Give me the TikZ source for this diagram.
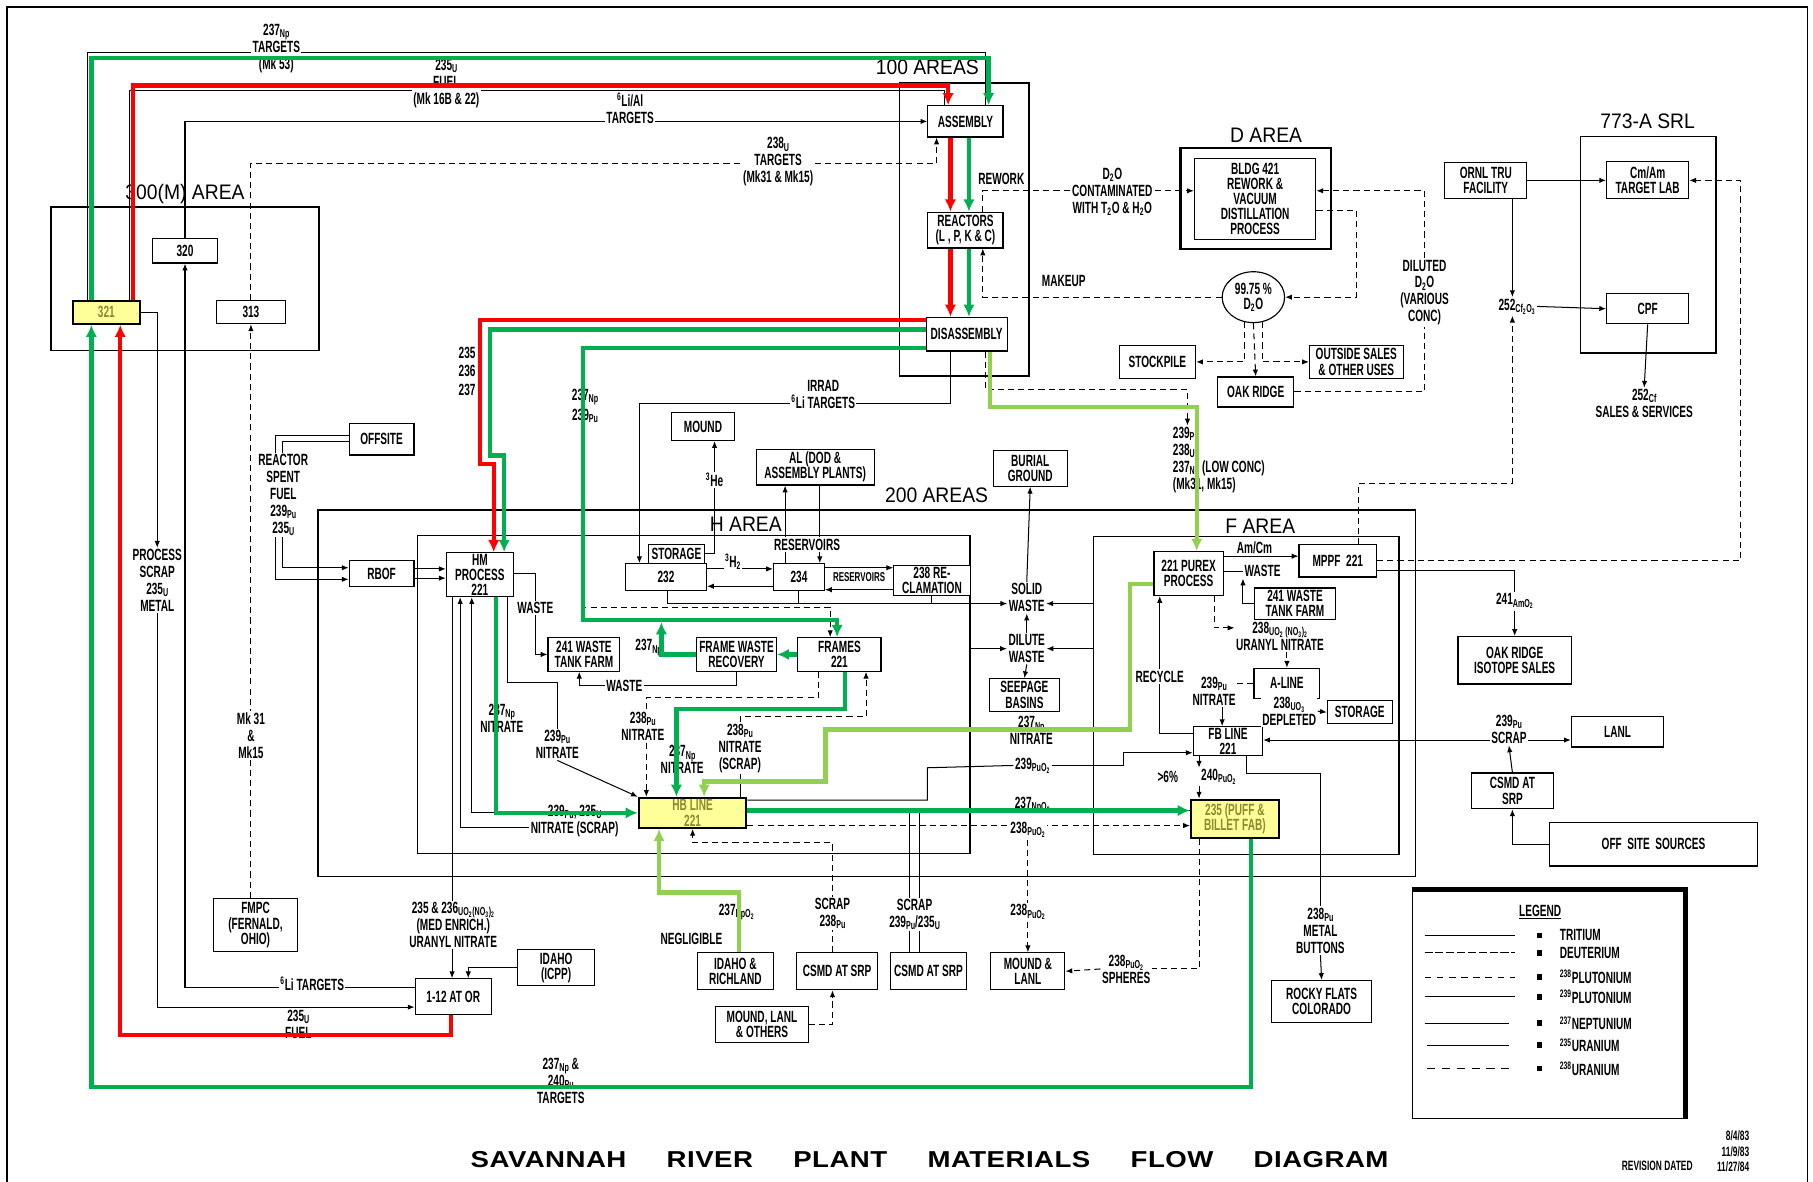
\documentclass[tikz,border=0pt]{standalone}
\usepackage{fontspec}
\setmainfont{Liberation Sans}[FakeStretch=0.62]
\newfontfamily\areafont{Liberation Sans}[FakeStretch=0.92]
\newfontfamily\titlefont{Liberation Sans}[FakeStretch=1.2,LetterSpace=2]
\usetikzlibrary{arrows.meta,shapes.geometric}
\definecolor{flowRed}{HTML}{FF0000}
\definecolor{flowGreen}{HTML}{00B050}
\definecolor{flowLime}{HTML}{92D050}
\definecolor{hiYellow}{HTML}{FFFF99}
\definecolor{hiText}{HTML}{8A8A30}
\newcommand\boxfont{\bfseries\fontsize{12}{11.2}\selectfont}
\newcommand\lblfont{\bfseries\fontsize{12}{12.5}\selectfont}
\newcommand\iso[2]{#1{\fontsize{8.5}{8.5}\selectfont\raisebox{-0.35ex}{#2}}}
\pgfdeclarelayer{back}
\pgfdeclarelayer{front}
\pgfsetlayers{back,main,front}

\begin{document}
\begin{tikzpicture}[
    x=0.03cm, y=-0.03cm,
    wh/.style 2 args={minimum width=#1*0.03cm, minimum height=#2*0.03cm},
    box/.style={draw, line width=0.85pt, fill=white, align=center, inner sep=0.5pt, font=\boxfont},
    ybox/.style={box, fill=hiYellow, line width=1.5pt, text=hiText},
    areabox/.style={draw, line width=1.1pt, inner sep=0pt},
    arealbl/.style={font=\areafont\fontsize{15.5}{16}\selectfont, inner sep=0pt},
    lbl/.style={align=center, inner sep=1pt, fill=white, font=\lblfont},
    conn/.style={line width=0.75pt},
    arrow/.style={conn, -{Latex[length=5pt,width=4pt]}},
    dashconn/.style={conn, dash pattern=on 4.5pt off 3pt},
    dasharrow/.style={dashconn, -{Latex[length=5pt,width=4pt]}},
    redflow/.style={draw=flowRed, line width=3.2pt, -{Latex[length=9pt,width=8.5pt]}},
    greenflow/.style={redflow, draw=flowGreen},
    limeflow/.style={redflow, draw=flowLime}
  ]
  \useasboundingbox (0,0) rectangle (1568,1022);
  \draw[line width=1pt] (6,1030) -- (6,6) -- (1563,6) -- (1563,1030);

  %---------------- 300(M) area ----------------%
  \node[areabox, wh={232}{124}] (a300) at (160,241) {};
  \node[arealbl] (l300) at (160,168) {300(M) AREA};
  \node[ybox, wh={58}{20}] (b321) at (92,270) {321};
  \node[box, wh={56}{21}] (b320) at (160,217) {320};
  \node[box, wh={60}{20}] (b313) at (217,270) {313};

  %---------------- 100 areas ----------------%
  \node[areabox, line width=1.3pt, wh={112}{253}] (a100) at (834,198.5) {};
  \node[arealbl] (l100) at (802,58) {100 AREAS};
  \node[box, wh={65}{27}] (assembly) at (835,105) {ASSEMBLY};
  \node[box, wh={65}{31}] (reactors) at (835,199) {REACTORS\\(L , P, K \& C)};
  \node[box, wh={70}{29}] (disassembly) at (836,289) {DISASSEMBLY};
  \node[lbl] (lrework) at (866,155) {REWORK};

  %---------------- D area ----------------%
  \node[areabox, line width=1.6pt, wh={130}{87}] (aD) at (1086,171.5) {};
  \node[arealbl] (lD) at (1095,117) {D AREA};
  \node[box, wh={105}{70}] (bldg) at (1085.5,172) {BLDG 421\\REWORK \&\\VACUUM\\DISTILLATION\\PROCESS};
  \node[box, ellipse, wh={54}{44}] (dtwo) at (1084,257) {99.75\,\%\\D\textsubscript{2}O};
  \node[box, wh={66}{29}] (stockpile) at (1001,313) {STOCKPILE};
  \node[box, wh={81}{29}] (outside) at (1173,313) {OUTSIDE SALES\\\& OTHER USES};
  \node[box, wh={66}{26}] (oakridge) at (1086,339) {OAK RIDGE};
  \node[lbl] (ld2o) at (962,166) {D\textsubscript{2}O\\CONTAMINATED\\WITH T\textsubscript{2}O \& H\textsubscript{2}O};
  \node[lbl] (lmakeup) at (920,243) {MAKEUP};
  \node[lbl] (ldiluted) at (1232,253) {DILUTED\\D\textsubscript{2}O\\(VARIOUS\\CONC)};

  %---------------- 773-A SRL ----------------%
  \node[areabox, line width=1.3pt, wh={117}{187}] (aSRL) at (1425.5,211.5) {};
  \node[arealbl] (lSRL) at (1425,105) {773-A SRL};
  \node[box, wh={71}{31}] (ornl) at (1285,156) {ORNL TRU\\FACILITY};
  \node[box, wh={71}{32}] (cmam) at (1425,156) {Cm/Am\\TARGET LAB};
  \node[box, wh={71}{26}] (cpf) at (1425,267) {CPF};
  \node[lbl] (lcf) at (1312,265) {\iso{252}{Cf\textsubscript{2}O\textsubscript{3}}};
  \node[lbl] (lcfsales) at (1422,349) {\iso{252}{Cf}\\SALES \& SERVICES};

  %---------------- 200 areas ----------------%
  \node[areabox, wh={949}{317}] (a200) at (749.5,599.5) {};
  \node[arealbl] (l200) at (810,428) {200 AREAS};
  \node[areabox, line width=0.9pt, wh={478}{275}] (aH) at (600,600.5) {};
  \node[arealbl] (lH) at (645,453) {H AREA};
  \node[areabox, line width=0.9pt, wh={264}{275}] (aF) at (1078,601.5) {};
  \node[arealbl] (lF) at (1090,455) {F AREA};

  %---------------- H area boxes ----------------%
  \node[box, wh={56}{27}] (offsite) at (330,380) {OFFSITE};
  \node[box, wh={56}{23}] (rbof) at (330,496) {RBOF};
  \node[box, wh={58}{38}] (hm) at (415,497) {HM\\PROCESS\\221};
  \node[box, wh={55}{24}] (mound) at (608,369) {MOUND};
  \node[box, wh={48}{16}] (storH) at (585,479) {STORAGE};
  \node[box, wh={70}{23}] (b232) at (576,499) {232};
  \node[box, wh={44}{23}] (b234) at (691,499) {234};
  \node[box, wh={66}{26}] (b238) at (806,502) {238 RE-\\CLAMATION};
  \node[box, wh={102}{31}] (alplant) at (705,404) {AL (DOD \&\\ASSEMBLY PLANTS)};
  \node[box, wh={64}{31}] (burial) at (891,405) {BURIAL\\GROUND};
  \node[box, wh={60}{28}] (seepage) at (886,601) {SEEPAGE\\BASINS};
  \node[box, wh={62}{29}] (tankH) at (505,566) {241 WASTE\\TANK FARM};
  \node[box, wh={69}{29}] (fwr) at (637,566) {FRAME WASTE\\RECOVERY};
  \node[box, wh={72}{29}] (frames) at (726,566) {FRAMES\\221};
  \node[ybox, wh={93}{26}] (hbline) at (599,703) {HB LINE\\221};

  %---------------- F area boxes ----------------%
  \node[box, wh={60}{38}] (purex) at (1028,496) {221 PUREX\\PROCESS};
  \node[box, wh={67}{28}] (mppf) at (1157,485) {MPPF\ \ 221};
  \node[box, wh={70}{27}] (tankF) at (1120,522) {241 WASTE\\TANK FARM};
  \node[box, wh={57}{26}] (aline) at (1113,591) {A-LINE};
  \node[box, wh={56}{20}] (storF) at (1176,616) {STORAGE};
  \node[box, wh={60}{25}] (fbline) at (1062,641) {FB LINE\\221};
  \node[ybox, wh={76}{33}] (puff) at (1068,708) {235 (PUFF \&\\BILLET FAB)};

  %---------------- outside sites ----------------%
  \node[box, wh={98}{41}] (orsales) at (1310,571) {OAK RIDGE\\ISOTOPE SALES};
  \node[box, wh={80}{26}] (lanl) at (1399,633) {LANL};
  \node[box, wh={71}{31}] (csmdR) at (1308,684) {CSMD AT\\SRP};
  \node[box, wh={180}{38}] (offsrc) at (1430,730) {OFF\ \ SITE\ \ SOURCES};
  \node[box, wh={72}{46}] (fmpc) at (221,800) {FMPC\\(FERNALD,\\OHIO)};
  \node[box, wh={67}{31}] (icpp) at (481,837) {IDAHO\\(ICPP)};
  \node[box, wh={66}{31}] (oneTwelve) at (392,862) {1-12 AT OR};
  \node[box, wh={66}{32}] (idaho) at (636,840) {IDAHO \&\\RICHLAND};
  \node[box, wh={70}{32}] (csmdA) at (724,840) {CSMD AT SRP};
  \node[box, wh={66}{32}] (csmdB) at (803,840) {CSMD AT SRP};
  \node[box, wh={64}{32}] (moundlanl) at (889,840) {MOUND \&\\LANL};
  \node[box, wh={80}{31}] (mlo) at (659,886) {MOUND, LANL\\\& OTHERS};
  \node[box, wh={87}{36}] (rocky) at (1143,866) {ROCKY FLATS\\COLORADO};

  %---------------- flow labels ----------------%
  \node[lbl] (lnptop) at (239,42) {\iso{237}{Np}\\TARGETS\\(Mk 53)};
  \node[lbl] (lfueltop) at (386,72) {\iso{235}{U}\\FUEL\\(Mk 16B \& 22)};
  \node[lbl] (llial) at (545,94) {\textsuperscript{6}Li/Al\\TARGETS};
  \node[lbl] (l238u) at (673,140) {\iso{238}{U}\\TARGETS\\(Mk31 \& Mk15)};
  \node[lbl, align=left, anchor=north west] (llowconc) at (1013,368)
       {\iso{239}{Pu}\\\iso{238}{U}\\\iso{237}{Np} (LOW CONC)\\(Mk31, Mk15)};
  \node[lbl, fill=none] (l235) at (404,305) {235};
  \node[lbl, fill=none] (l236) at (404,321) {236};
  \node[lbl, fill=none] (l237) at (404,337) {237};
  \node[lbl, fill=none] (lnpg) at (506,343) {\iso{237}{Np}};
  \node[lbl, fill=none] (lpug) at (506,360) {\iso{239}{Pu}};
  \node[lbl] (lirrad) at (712,341) {IRRAD\\\textsuperscript{6}Li TARGETS};
  \node[lbl] (l3he) at (618,415) {\textsuperscript{3}He};
  \node[lbl] (l3h2) at (634,486) {\textsuperscript{3}H\textsubscript{2}};
  \node[lbl] (lres1) at (698,471) {RESERVOIRS};
  \node[lbl, font=\bfseries\fontsize{9.5}{9.5}\selectfont] (lres2) at (743,499) {RESERVOIRS};
  \node[lbl] (lsolid) at (888,517) {SOLID\\WASTE};
  \node[lbl] (ldilute) at (888,561) {DILUTE\\WASTE};
  \node[lbl] (lspent) at (245,428) {REACTOR\\SPENT\\FUEL\\\iso{239}{Pu}\\\iso{235}{U}};
  \node[lbl] (lprocscrap) at (136,502) {PROCESS\\SCRAP\\\iso{235}{U}\\METAL};
  \node[lbl] (lmk) at (217,636) {Mk 31\\\&\\Mk15};
  \node[lbl] (lwasteH) at (463,526) {WASTE};
  \node[lbl] (lnpnit) at (434,621) {\iso{237}{Np}\\NITRATE};
  \node[lbl] (lpunit) at (482,644) {\iso{239}{Pu}\\NITRATE};
  \node[lbl] (lhbscrap) at (497,710) {\iso{239}{Pu}, \iso{235}{U}\\NITRATE (SCRAP)};
  \node[lbl] (lwasteFW) at (540,593) {WASTE};
  \node[lbl, fill=none] (l237g) at (561,560) {\iso{237}{Np}};
  \node[lbl] (l238nit) at (556,628) {\iso{238}{Pu}\\NITRATE};
  \node[lbl] (l237nit) at (590,657) {\iso{237}{Np}\\NITRATE};
  \node[lbl] (lpscrap) at (640,647) {\iso{238}{Pu}\\NITRATE\\(SCRAP)};
  \node[lbl] (lnpnitF) at (892,632) {\iso{237}{Np}\\NITRATE};
  \node[lbl] (lpu239o2) at (893,662) {\iso{239}{PuO\textsubscript{2}}};
  \node[lbl] (lnpo2) at (893,696) {\iso{237}{NpO\textsubscript{2}}};
  \node[lbl] (lpuo2) at (889,718) {\iso{238}{PuO\textsubscript{2}}};
  \node[lbl] (lpuo2b) at (889,789) {\iso{238}{PuO\textsubscript{2}}};
  \node[lbl] (lspheres) at (974,838) {\iso{238}{PuO\textsubscript{2}}\\SPHERES};
  \node[lbl] (lscrapA) at (720,790) {SCRAP\\\iso{238}{Pu}};
  \node[lbl] (lscrapB) at (791,791) {SCRAP\\\iso{239}{Pu}/\iso{235}{U}};
  \node[lbl, fill=none] (lnpo2g) at (637,789) {\iso{237}{NpO\textsubscript{2}}};
  \node[lbl] (lneg) at (598,812) {NEGLIGIBLE};
  \node[lbl] (luranyl) at (392,800) {235\,\&\,\iso{236}{UO\textsubscript{2}(NO\textsubscript{3})\textsubscript{2}}\\(MED ENRICH.)\\URANYL NITRATE};
  \node[lbl] (lli) at (270,851) {\textsuperscript{6}Li TARGETS};
  \node[lbl] (lfuel) at (258,886) {\iso{235}{U}\\FUEL};
  \node[lbl] (ltargets) at (485,935) {\iso{237}{Np} \&\\\iso{240}{Pu}\\TARGETS};
  \node[lbl] (lamcm) at (1085,474) {Am/Cm};
  \node[lbl] (lwasteF) at (1092,494) {WASTE};
  \node[lbl] (luranF) at (1107,550) {\iso{238}{UO\textsubscript{2} (NO\textsubscript{3})\textsubscript{2}}\\URANYL NITRATE};
  \node[lbl] (lpunitF) at (1050,598) {\iso{239}{Pu}\\NITRATE};
  \node[lbl] (luo3) at (1115,615) {\iso{238}{UO\textsubscript{3}}\\DEPLETED};
  \node[lbl] (lrecycle) at (1003,585) {RECYCLE};
  \node[lbl] (lpct) at (1010,672) {>6\%};
  \node[lbl] (lpu240) at (1054,672) {\iso{240}{PuO\textsubscript{2}}};
  \node[lbl] (lbuttons) at (1142,805) {\iso{238}{Pu}\\METAL\\BUTTONS};
  \node[lbl] (lamo2) at (1310,520) {\iso{241}{AmO\textsubscript{2}}};
  \node[lbl] (lpuscrap) at (1305,631) {\iso{239}{Pu}\\SCRAP};

  %================ black flows =================%
  \begin{pgfonlayer}{back}
    % feeds to assembly
    \draw[conn] (b321.north -| 76,0) |- (852,45) -- (assembly.north -| 852,0);
    \draw[conn] (b321.north -| 112,0) |- (817,78) -- (assembly.north -| 817,0);
    \draw[arrow] (b320.north) |- (assembly.west);
    \draw[dasharrow] (b313.north) |- (810,141) -- (assembly.south -| 810,0);
    \draw[dasharrow] (fmpc.north -| b313.south) -- (b313.south);
    \draw[arrow] (oneTwelve.west |- 0,854) -| (b320.south);
    \draw[arrow] (b321.east) -| (lprocscrap.north);
    \draw[arrow] (lprocscrap.south) |- (oneTwelve.west |- 0,871);
    % heavy water loop
    \draw[dasharrow] (reactors.north -| 850,0) |- (bldg.west |- 0,165);
    \draw[dasharrow] (dtwo.west) -| (reactors.south -| 850,0);
    \draw[dasharrow] (oakridge.east) -| (1232,165) -- (bldg.east |- 0,165);
    \draw[dasharrow] (bldg.east |- 0,182) -| (1173,257) -- (dtwo.east);
    \draw[dasharrow] (dtwo.250) |- (stockpile.east);
    \draw[dasharrow] (dtwo.290) |- (outside.west);
    \draw[dasharrow] (dtwo.south) -- (oakridge.north);
    % SRL
    \draw[arrow] (ornl.east) -- (cmam.west);
    \draw[arrow] (ornl.south -| 1308,0) -- (lcf.north -| 1308,0);
    \draw[arrow] (lcf.east) -- (cpf.west);
    \draw[arrow] (cpf.south) -- (lcfsales.north);
    \draw[dasharrow] (mppf.east) -| (1505,156) -- (cmam.east);
    \draw[dasharrow] (mppf.north -| 1175,0) |- (1308,418) -- (lcf.south -| 1308,0);
    \draw[conn] (mppf.east |- 0,493) -| (lamo2.north);
    \draw[arrow] (lamo2.south) -- (orsales.north);
    % from disassembly
    \draw[dasharrow] (disassembly.south -| 852,0) |- (1027,337) -- (llowconc.north -| 1027,0);
    \draw[arrow] (disassembly.south -| 822,0) |- (553,349) -- (b232.north -| 553,0);
    \draw[dasharrow] (disassembly.west |- 0,301) -| (504,525) -| (frames.north -| 718,0);
    % H area
    \draw[arrow] (offsite.west |- 0,377) -| (238,501) -- (rbof.west |- 0,501);
    \draw[arrow] (offsite.west |- 0,382) -| (244,491) -- (rbof.west |- 0,491);
    \draw[arrow] (rbof.east |- 0,492) -- (hm.west |- 0,492);
    \draw[arrow] (rbof.east |- 0,500) -- (hm.west |- 0,500);
    \draw[arrow] (hm.east |- 0,496) -| (463,566) -- (tankH.west);
    \draw[conn] (hm.south -| 439,0) |- (482,590) -- (lpunit.north);
    \draw[arrow] (lpunit.south) -- (hbline.north west);
    \draw[arrow] (lhbscrap.west |- 0,703) -| (hm.south -| 408,0);
    \draw[arrow] (lhbscrap.west |- 0,716) -| (hm.south -| 398,0);
    \draw[conn] (hm.south -| 391,0) -- (luranyl.north -| 391,0);
    \draw[arrow] (luranyl.south -| 391,0) -- (oneTwelve.north -| 391,0);
    \draw[arrow] (icpp.west) -| (oneTwelve.north -| 405,0);
    \draw[arrow] (storH.east) -| (mound.south -| 618,0);
    \draw[arrow] (b232.east |- 0,492) -- (b234.west |- 0,492);
    \draw[arrow] (b234.west |- 0,507) -- (b232.east |- 0,507);
    \draw[arrow] (b234.north -| 679,0) -- (alplant.south -| 679,0);
    \draw[arrow] (alplant.south -| 709,0) -- (b234.north -| 709,0);
    \draw[arrow] (b234.east |- 0,491) -- (b238.west |- 0,491);
    \draw[arrow] (b238.west |- 0,510) -- (b234.east |- 0,510);
    \draw[arrow] (b232.south -| 577,0) |- (lsolid.west |- 0,522);
    \draw[conn] (b234.south) -- (b234.south |- 0,522);
    \draw[conn] (b238.south) -- (b238.south |- 0,522);
    \draw[arrow] (lsolid.north) -- (burial.south);
    \draw[arrow] (aF.west |- 0,522) -- (lsolid.east |- 0,522);
    \draw[arrow] (aH.east |- 0,561) -- (ldilute.west |- 0,561);
    \draw[arrow] (aF.west |- 0,561) -- (ldilute.east |- 0,561);
    \draw[arrow] (ldilute.north) -- (lsolid.south);
    \draw[arrow] (ldilute.south) -- (seepage.north);
    \draw[arrow] (fwr.south) |- (501,593) -- (tankH.south -| 501,0);
    \draw[dasharrow] (frames.south -| 708,0) |- (559,603) -- (hbline.north -| 559,0);
    \draw[dasharrow] (lpscrap.north) |- (749,620) -- (frames.south -| 749,0);
    \draw[conn] (lpscrap.south) -- (hbline.north -| 640,0);
    \draw[dasharrow] (csmdA.north -| 720,0) |- (599,729) -- (hbline.south -| 599,0);
    \draw[dasharrow] (mlo.east) -| (csmdA.south -| 720,0);
    % HB line products
    \draw[conn] (hbline.east |- 0,701) -- (puff.west |- 0,701);
    \coordinate (tapA) at (787,701);
    \coordinate (tapB) at (795,701);
    \draw[conn] (tapA) -- (csmdB.north -| 787,0);
    \draw[conn] (tapB) -- (csmdB.north -| 795,0);
    \draw[conn] (hbline.east |- 0,692) -| (802,664) -- (lpu239o2.west);
    \draw[arrow] (lpu239o2.east) -| (972,651) -- (fbline.west |- 0,651);
    \draw[dasharrow] (hbline.east |- 0,714) -- (puff.west |- 0,714);
    \draw[dashconn] (lpuo2.south) -- (lpuo2b.north);
    \draw[dasharrow] (lpuo2b.south) -- (moundlanl.north);
    \draw[dashconn] (puff.south -| 1037,0) |- (lspheres.east);
    \draw[dasharrow] (lspheres.west) -- (moundlanl.east);
    % F area
    \draw[arrow] (purex.east |- 0,481) -- (mppf.west |- 0,481);
    \draw[conn] (purex.east |- 0,494) -- (lwasteF.west);
    \draw[arrow] (tankF.west) -| (lwasteF.south -| 1075,0);
    \draw[dasharrow] (purex.south -| 1050,0) |- (luranF.west |- 0,543);
    \draw[dasharrow] (luranF.south -| 1113,0) -- (aline.north);
    \draw[dashconn] (aline.west) -- (lpunitF.east |- aline.west);
    \draw[arrow] (lpunitF.south -| 1057,0) -- (fbline.north -| 1057,0);
    \draw[arrow] (luo3.east) -- (storF.west);
    \draw[arrow] (fbline.west |- 0,634) -| (purex.south -| 1003,0);
    \draw[arrow] (fbline.south -| 1037,0) -- (lpu240.north -| 1037,0);
    \draw[dasharrow] (lpu240.south -| 1037,0) -- (puff.north -| 1037,0);
    \draw[conn] (fbline.south -| 1078,0) |- (1142,669) -- (lbuttons.north);
    \draw[arrow] (lbuttons.south) -- (rocky.north);
    \draw[arrow] (lpuscrap.west |- 0,640) -- (fbline.east |- 0,640);
    \draw[arrow] (lpuscrap.east |- 0,640) -- (lanl.west |- 0,640);
    \draw[arrow] (csmdR.north) -- (lpuscrap.south);
    \draw[arrow] (offsrc.west) -| (csmdR.south);
  \end{pgfonlayer}

  %================ highlighted flows =================%
  \begin{pgfonlayer}{front}
    \draw[greenflow] (b321.north -| 79,0) |- (855,50) -- (assembly.north -| 855,0);
    \draw[redflow] (b321.north -| 115,0) |- (820,74) -- (assembly.north -| 820,0);
    \draw[redflow] (assembly.south -| 822,0) -- (reactors.north -| 822,0);
    \draw[greenflow] (assembly.south -| 838,0) -- (reactors.north -| 838,0);
    \draw[redflow] (reactors.south -| 822,0) -- (disassembly.north -| 822,0);
    \draw[greenflow] (reactors.south -| 838,0) -- (disassembly.north -| 838,0);
    \draw[redflow] (disassembly.west |- 0,277) -| (415,401) -| (hm.north -| 427,0);
    \draw[greenflow] (disassembly.west |- 0,285) -| (424,394) -| (hm.north -| 436,0);
    \draw[greenflow] (disassembly.west |- 0,301) -| (504,536) -| (frames.north -| 724,0);
    \draw[greenflow] (frames.west) -- (fwr.east);
    \coordinate (gjoin) at (572,538);
    \draw[greenflow] (fwr.west) -| (gjoin);
    \draw[greenflow] (frames.south -| 731,0) |- (585,613) -- (hbline.north -| 585,0);
    \draw[greenflow] (hm.south -| 429,0) |- (hbline.west);
    \draw[greenflow] (hbline.east |- 0,701) -- (puff.west |- 0,701);
    \draw[greenflow] (puff.south -| 1082,0) |- (79,940) -- (b321.south -| 79,0);
    \draw[redflow] (oneTwelve.south -| 390,0) |- (104,895) -- (b321.south -| 104,0);
    \draw[limeflow] (disassembly.south -| 856,0) |- (1035,352) -- (purex.north -| 1035,0);
    \draw[limeflow] (purex.west |- 0,505) -| (977,631) -| (714,676) -| (hbline.north -| 609,0);
    \draw[limeflow] (idaho.north -| 639,0) |- (570,772) -- (hbline.south -| 570,0);
  \end{pgfonlayer}

  %================ Legend =================%
  \node[draw, line width=0.8pt, wh={235}{197}] (legend) at (1339.5,868.5) {};
  \draw[line width=3.5pt] (legend.north west) -- (legend.north east) -- (legend.south east);
  \node[font=\boxfont] (legtitle) at (1332,789) {\underline{LEGEND}};
  \draw[line width=0.7pt] (1232,809) -- (1310,809);
  \draw[line width=1pt, dash pattern=on 6pt off 2pt] (1232,824) -- (1310,824);
  \draw[line width=0.8pt, dash pattern=on 5pt off 4pt] (1232,845) -- (1310,845);
  \draw[line width=1.1pt] (1232,862) -- (1310,862);
  \draw[line width=0.8pt] (1232,885) -- (1305,885);
  \draw[line width=0.8pt] (1234,904) -- (1305,904);
  \draw[line width=0.8pt, dash pattern=on 6pt off 5pt] (1234,924) -- (1305,924);
  \foreach \y in {809,824,845,862,885,904,924}
    \fill (1329,\y-2.5) rectangle (1334,\y+2.5);
  \node[anchor=west, font=\boxfont] (legA) at (1345,809) {TRITIUM};
  \node[anchor=west, font=\boxfont] (legB) at (1345,824) {DEUTERIUM};
  \node[anchor=west, font=\boxfont] (legC) at (1345,845) {\textsuperscript{238}PLUTONIUM};
  \node[anchor=west, font=\boxfont] (legD) at (1345,862) {\textsuperscript{239}PLUTONIUM};
  \node[anchor=west, font=\boxfont] (legE) at (1345,885) {\textsuperscript{237}NEPTUNIUM};
  \node[anchor=west, font=\boxfont] (legF) at (1345,904) {\textsuperscript{235}URANIUM};
  \node[anchor=west, font=\boxfont] (legG) at (1345,924) {\textsuperscript{238}URANIUM};

  %================ Title =================%
  \node[font=\titlefont\bfseries\fontsize{17}{17}\selectfont] (title) at (804,1003)
       {SAVANNAH\hspace{1.75em}RIVER\hspace{1.75em}PLANT\hspace{1.75em}MATERIALS\hspace{1.75em}FLOW\hspace{1.75em}DIAGRAM};
  \node[font=\bfseries\fontsize{10}{11.5}\selectfont, align=right, anchor=east] (revdates) at (1517,996) {8/4/83\\11/9/83\\11/27/84};
  \node[font=\bfseries\fontsize{10}{11.5}\selectfont, anchor=east] (revlbl) at (1468,1008) {REVISION DATED};
\end{tikzpicture}
\end{document}
